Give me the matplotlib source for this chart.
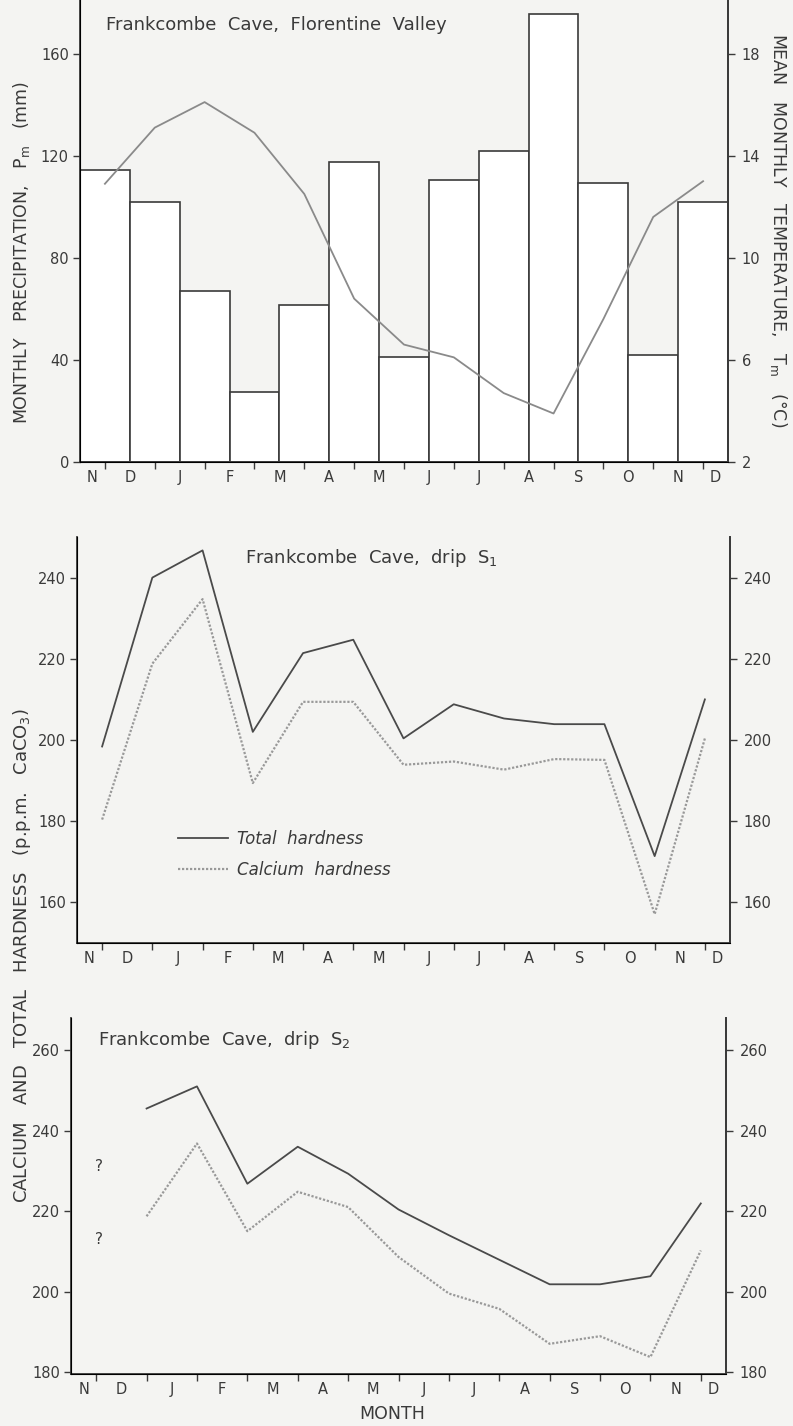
import matplotlib.pyplot as plt
import numpy as np

W, H = 793, 1426

MONTHS = ["N", "D", "J", "F", "M", "A", "M", "J", "J", "A", "S", "O", "N", "D"]

# panel 1: precipitation bars (mm) and mean monthly temperature (deg C)
PRECIP = [114.5, 101.7, 67.0, 27.5, 61.5, 117.5, 41.0, 110.5, 122.0, 175.5, 109.5, 42.0, 101.7]
TEMP = [12.9, 15.1, 16.1, 14.9, 12.5, 8.4, 6.6, 6.1, 4.7, 3.9, 7.6, 11.6, 13.0]

# panel 2: drip S1 hardness (p.p.m. CaCO3)
S1_TOTAL = [198.4, 240.0, 246.7, 202.0, 221.4, 224.7, 200.4, 208.8, 205.3, 203.9, 203.9, 171.4, 210.0]
S1_CALCIUM = [180.4, 218.8, 234.7, 189.4, 209.4, 209.4, 193.9, 194.7, 192.7, 195.3, 195.1, 157.1, 200.4]

# panel 3: drip S2 hardness, no value for the first month
S2_TOTAL = [np.nan, 245.5, 251.0, 226.8, 236.0, 229.3, 220.4, 214.0, 207.9, 201.8, 201.8, 203.8, 221.9]
S2_CALCIUM = [np.nan, 218.7, 236.8, 215.0, 224.8, 221.0, 208.6, 199.5, 195.7, 187.0, 188.9, 183.7, 210.2]

INK = "#3a3a3a"
BG = "#f4f4f2"
plt.rcParams["font.family"] = ["DejaVu Sans"]


def box(left, top, right, bottom):
    return [left / W, 1 - bottom / H, (right - left) / W, (bottom - top) / H]


def style(ax, right=None):
    ax.set_facecolor("none")
    ax.spines["top"].set_visible(False)
    for s in ("left", "bottom", "right"):
        ax.spines[s].set_color(INK)
        ax.spines[s].set_linewidth(1.3)
    ax.set_xlim(-0.5, 12.5)
    ax.set_xticks(range(13))
    ax.set_xticklabels([])
    pos = [-0.25] + [k + 0.5 for k in range(12)] + [12.25]
    ax.set_xticks(pos, minor=True)
    ax.set_xticklabels(MONTHS, minor=True)
    ax.tick_params(axis="x", which="major", direction="out", length=5, width=1.0, color=INK)
    ax.tick_params(axis="x", which="minor", length=0, pad=6, labelsize=10.5, labelcolor=INK)
    ax.tick_params(axis="y", direction="out", length=5, width=1.0, color=INK,
                   labelsize=10.5, labelcolor=INK, pad=3)
    if right is not None:
        right.spines["top"].set_visible(False)
        right.spines["right"].set_color(INK)
        right.spines["right"].set_linewidth(1.3)
        right.tick_params(axis="y", direction="out", length=5, width=1.0, color=INK,
                          labelsize=10.5, labelcolor=INK, pad=5)


fig = plt.figure(figsize=(W / 100, H / 100), dpi=100, facecolor=BG)

# --- precipitation / temperature ---
ax1 = fig.add_axes(box(80, 0, 728, 462))
x = np.arange(13)
ax1.bar(x, PRECIP, width=1.0, color="white", edgecolor=INK, linewidth=1.2, zorder=2)
ax1.set_ylim(0, 181)
ax1.set_yticks([0, 40, 80, 120, 160])
ax1r = ax1.twinx()
ax1r.plot(x, TEMP, color="#8a8a8a", lw=1.3, zorder=3)
ax1r.set_ylim(2, 2 + 181 / 10)
ax1r.set_yticks([2, 6, 10, 14, 18])
style(ax1, ax1r)
ax1.text(0.04, 0.945, "Frankcombe  Cave,  Florentine  Valley", transform=ax1.transAxes,
         fontsize=13, color=INK, va="center")

# --- drip S1 ---
ax2 = fig.add_axes(box(77, 537, 730, 943))
ax2.plot(x, S1_TOTAL, color="#4a4a4a", lw=1.3, label="Total  hardness")
ax2.plot(x, S1_CALCIUM, color="#999999", lw=1.6, ls=(0, (1, 0.8)), label="Calcium  hardness")
ax2.set_ylim(150, 250)
ax2.set_yticks([160, 180, 200, 220, 240])
ax2r = ax2.twinx()
ax2r.set_ylim(150, 250)
ax2r.set_yticks([160, 180, 200, 220, 240])
style(ax2, ax2r)
fig.text(245 / W, 1 - 558 / H, "Frankcombe  Cave,  drip  S$_1$", fontsize=13, color=INK, va="center")
ax2.legend(loc="upper left", bbox_to_anchor=(178 / W, 1 - 830 / H), bbox_transform=fig.transFigure,
           frameon=False, borderpad=0, borderaxespad=0, handlelength=3.0, handletextpad=0.55,
           labelspacing=0.8, prop={"size": 12, "style": "italic"}, labelcolor=INK)

# --- drip S2 ---
ax3 = fig.add_axes(box(71, 1018, 726, 1374))
ax3.plot(x, S2_TOTAL, color="#4a4a4a", lw=1.3)
ax3.plot(x, S2_CALCIUM, color="#999999", lw=1.6, ls=(0, (1, 0.8)))
ax3.set_ylim(179.5, 268)
ax3.set_yticks([180, 200, 220, 240, 260])
ax3r = ax3.twinx()
ax3r.set_ylim(179.5, 268)
ax3r.set_yticks([180, 200, 220, 240, 260])
style(ax3, ax3r)
ax3.text(0.05, 231, "?", fontsize=11, color=INK, ha="center", va="center")
ax3.text(0.05, 213, "?", fontsize=11, color=INK, ha="center", va="center")
fig.text(98 / W, 1 - 1040 / H, "Frankcombe  Cave,  drip  S$_2$", fontsize=13, color=INK, va="center")
fig.text(392 / W, 1 - 1414 / H, "MONTH", fontsize=12.5, color=INK, ha="center", va="center")

# axis titles
fig.text(22 / W, 1 - 252 / H, "MONTHLY   PRECIPITATION,   P$_\\mathrm{m}$   (mm)", rotation=90,
         fontsize=12.5, color=INK, ha="center", va="center")
fig.text(778 / W, 1 - 230 / H, "MEAN   MONTHLY   TEMPERATURE,   T$_\\mathrm{m}$   (°C)", rotation=-90,
         fontsize=12.5, color=INK, ha="center", va="center")
fig.text(22 / W, 1 - 956 / H, "CALCIUM   AND   TOTAL   HARDNESS   (p.p.m.   CaCO$_3$)", rotation=90,
         fontsize=13, color=INK, ha="center", va="center")

fig.savefig("out.png", dpi=100, facecolor=BG)
